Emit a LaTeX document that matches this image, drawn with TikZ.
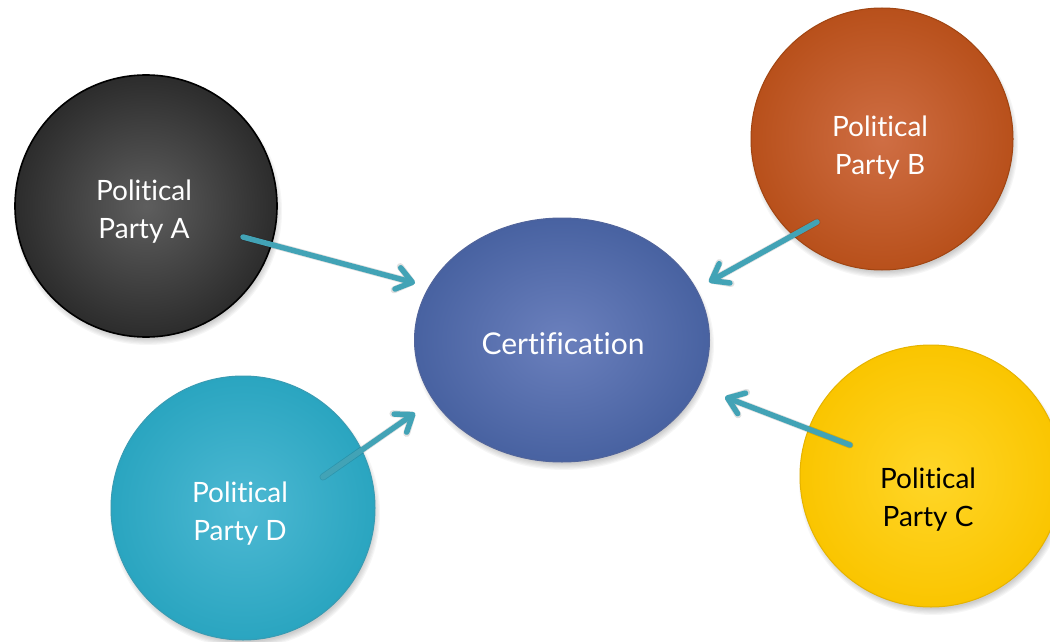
\documentclass[tikz,border=0pt]{standalone}
\usepackage{fontspec}
\setmainfont{Lato}[Ligatures={NoCommon,NoRequired,NoContextual}]
\usetikzlibrary{arrows.meta,shapes.geometric}
\definecolor{arrowc}{HTML}{42A3B6}
\definecolor{aIn}{HTML}{5E5E5E}\definecolor{aOut}{HTML}{2C2C2C}
\definecolor{bIn}{HTML}{CF6E44}\definecolor{bOut}{HTML}{B8501B}\definecolor{bBd}{HTML}{A04512}
\definecolor{eIn}{HTML}{6B80BD}\definecolor{eOut}{HTML}{4862A1}\definecolor{eBd}{HTML}{52659B}
\definecolor{cIn}{HTML}{FFD628}\definecolor{cOut}{HTML}{FAC500}\definecolor{cBd}{HTML}{E5B300}
\definecolor{dIn}{HTML}{4DB9D3}\definecolor{dOut}{HTML}{2AA5C0}\definecolor{dBd}{HTML}{3A9BB2}
\begin{document}
\begin{tikzpicture}[x=1pt,y=-1pt,
  blob/.style={circle, minimum size=262pt, inner sep=0pt, line width=1pt},
  ptext/.style={align=center, font=\fontsize{28}{38}\selectfont, text=white, inner sep=0pt},
  conn/.style={draw=arrowc, line width=5.5pt, line cap=round, -{Straight Barb[length=15pt,width=22pt,round]}},
  connshadow/.style={draw=black, opacity=0.12, line width=7pt, line cap=round, -{Straight Barb[length=15pt,width=24pt,round]}},
]
\useasboundingbox (0,0) rectangle (1050,642);
% soft shadows
\foreach \cx/\cy/\rx/\ry in {146/206/131/131, 882/139/131/131, 562/340/147/122, 931/476/131/131, 243/508/132/132}{
  \foreach \k in {0,...,5}{
    \fill[black, opacity=0.035] (\cx+2,\cy+5) ellipse ({(\rx-3+\k*1.2)*1pt} and {(\ry-3+\k*1.2)*1pt});
  }
}
% shapes
\node[blob, draw=black, line width=1.6pt, inner color=aIn, outer color=aOut] (A) at (146,206) {};
\node[blob, draw=bBd, inner color=bIn, outer color=bOut] (B) at (882,139) {};
\node[blob, draw=cBd, inner color=cIn, outer color=cOut] (C) at (931,476) {};
\node[blob, draw=dBd, inner color=dIn, outer color=dOut, minimum size=264pt] (D) at (243,508) {};
\node[ellipse, minimum width=295pt, minimum height=244pt, inner sep=0pt, line width=1pt, draw=eBd, inner color=eIn, outer color=eOut] (E) at (562,340) {};
% texts
\node[ptext] (At) at (144,212) {Political\\Party A};
\node[ptext] (Bt) at (880,148) {Political\\Party B};
\node[ptext, text=black] (Ct) at (928,500) {Political\\Party C};
\node[ptext] (Dt) at (240,514) {Political\\Party D};
\node[ptext, font=\fontsize{30}{36}\selectfont] (Et) at (563,344) {Certification};
% connector ends
\coordinate (a1) at (243,237); \coordinate (a2) at (415,283);
\coordinate (b1) at (817,222); \coordinate (b2) at (709,282);
\coordinate (c1) at (850,445); \coordinate (c2) at (725,397);
\coordinate (d1) at (323,477); \coordinate (d2) at (415,413);
\begin{scope}[shift={(2,4)}]
\foreach \s/\e in {a1/a2,b1/b2,c1/c2,d1/d2}{ \draw[connshadow] (\s) -- (\e); }
\end{scope}
\draw[conn] (a1) -- (a2);
\draw[conn] (b1) -- (b2);
\draw[conn] (c1) -- (c2);
\draw[conn] (d1) -- (d2);
\end{tikzpicture}
\end{document}
